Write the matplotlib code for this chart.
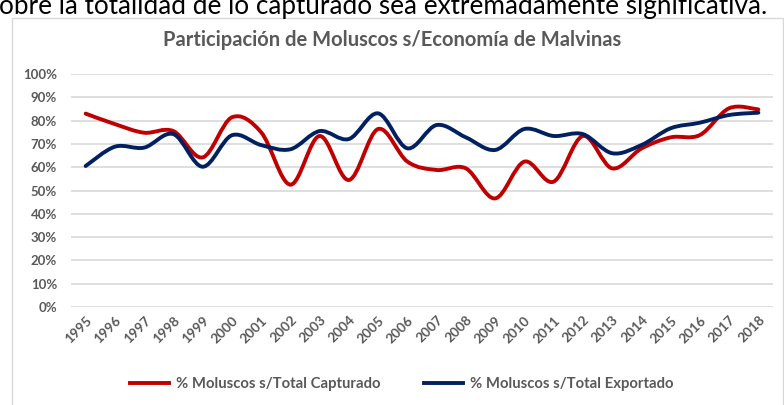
import matplotlib
matplotlib.use("Agg")
import matplotlib.pyplot as plt
import matplotlib.patches as patches
from matplotlib.path import Path
from matplotlib.lines import Line2D
import numpy as np

years = [str(y) for y in range(1995, 2019)]
capturado = [83.0, 78.5, 74.8, 75.5, 64.2, 81.4, 75.0, 52.5, 73.4, 54.5, 76.4, 62.4,
             58.8, 59.5, 46.6, 62.4, 53.8, 73.4, 59.5, 68.0, 72.8, 73.8, 85.3, 84.8]
exportado = [60.5, 68.8, 68.4, 74.2, 60.2, 73.7, 69.5, 67.7, 75.5, 72.1, 83.1, 68.1,
             78.1, 72.8, 67.4, 76.4, 73.4, 74.2, 66.0, 69.5, 76.7, 79.1, 82.4, 83.4]
labels = ["% Moluscos s/Total Capturado", "% Moluscos s/Total Exportado"]
colors = ["#C00000", "#002060"]

plt.rcParams['font.family'] = ['Lato', 'DejaVu Sans']


def smooth_path(xs, ys):
    # Excel-style smoothed line: cubic bezier segments through every data point
    pts = np.column_stack([xs, ys]).astype(float)
    n = len(pts)
    verts = [pts[0]]
    codes = [Path.MOVETO]
    for i in range(n - 1):
        p0 = pts[max(i - 1, 0)]
        p1 = pts[i]
        p2 = pts[i + 1]
        p3 = pts[min(i + 2, n - 1)]
        c1 = p1 + (p2 - p0) / 6.0
        c2 = p2 - (p3 - p1) / 6.0
        verts += [c1, c2, p2]
        codes += [Path.CURVE4] * 3
    return Path(verts, codes)


fig = plt.figure(figsize=(7.84, 4.05), dpi=100)
W, H = 784, 405

# surrounding document text and chart frame
fig.text(-1 / W, 1 - 14 / H, "obre la totalidad de lo capturado sea extremadamente significativa.",
         fontsize=18.8, color="black", ha="left", va="baseline")
fig.patches.append(patches.Rectangle((12 / W, -0.05), (783 - 12) / W, 1.05 - 18 / H,
                                     transform=fig.transFigure, fill=False,
                                     edgecolor="#d9d9d9", lw=1.0))

ax = fig.add_axes([71 / W, 98 / H, (773 - 71) / W, (307 - 74) / H])

x = np.arange(len(years))
for vals, col in zip([capturado, exportado], colors):
    ax.add_patch(patches.PathPatch(smooth_path(x, vals), fill=False, edgecolor=col,
                                   lw=2.8, capstyle="round", joinstyle="round", zorder=3))

ax.set_xlim(-0.5, len(years) - 0.5)
ax.set_ylim(0, 100)
ax.set_yticks(range(0, 101, 10))
ax.set_yticklabels([f"{v}%" for v in range(0, 101, 10)])
ax.set_xticks(x)
ax.set_xticklabels(years, rotation=45, ha="right", rotation_mode="anchor")
ax.grid(axis="y", color="#d9d9d9", lw=1.2)
ax.set_axisbelow(True)
for s in ax.spines.values():
    s.set_visible(False)
ax.tick_params(axis="y", length=0, labelsize=9.5, labelcolor="#595959", pad=10)
ax.tick_params(axis="x", length=0, labelsize=9.8, labelcolor="#595959", pad=5)
for t in ax.get_xticklabels() + ax.get_yticklabels():
    t.set_fontweight("bold")

fig.text(0.5, 1 - 40 / H, "Participación de Moluscos s/Economía de Malvinas",
         ha="center", va="center", fontsize=14.5, fontweight="bold", color="#595959")

handles = [Line2D([0], [0], color=c, lw=2.8) for c in colors]
fig.legend(handles, labels, loc="center", bbox_to_anchor=(402 / W, 1 - 384 / H), ncol=2,
           frameon=False, handlelength=2.6, handletextpad=0.5, columnspacing=2.9,
           prop={'weight': 'bold', 'size': 10.7}, labelcolor="#595959")

fig.savefig("out.png", dpi=100)
